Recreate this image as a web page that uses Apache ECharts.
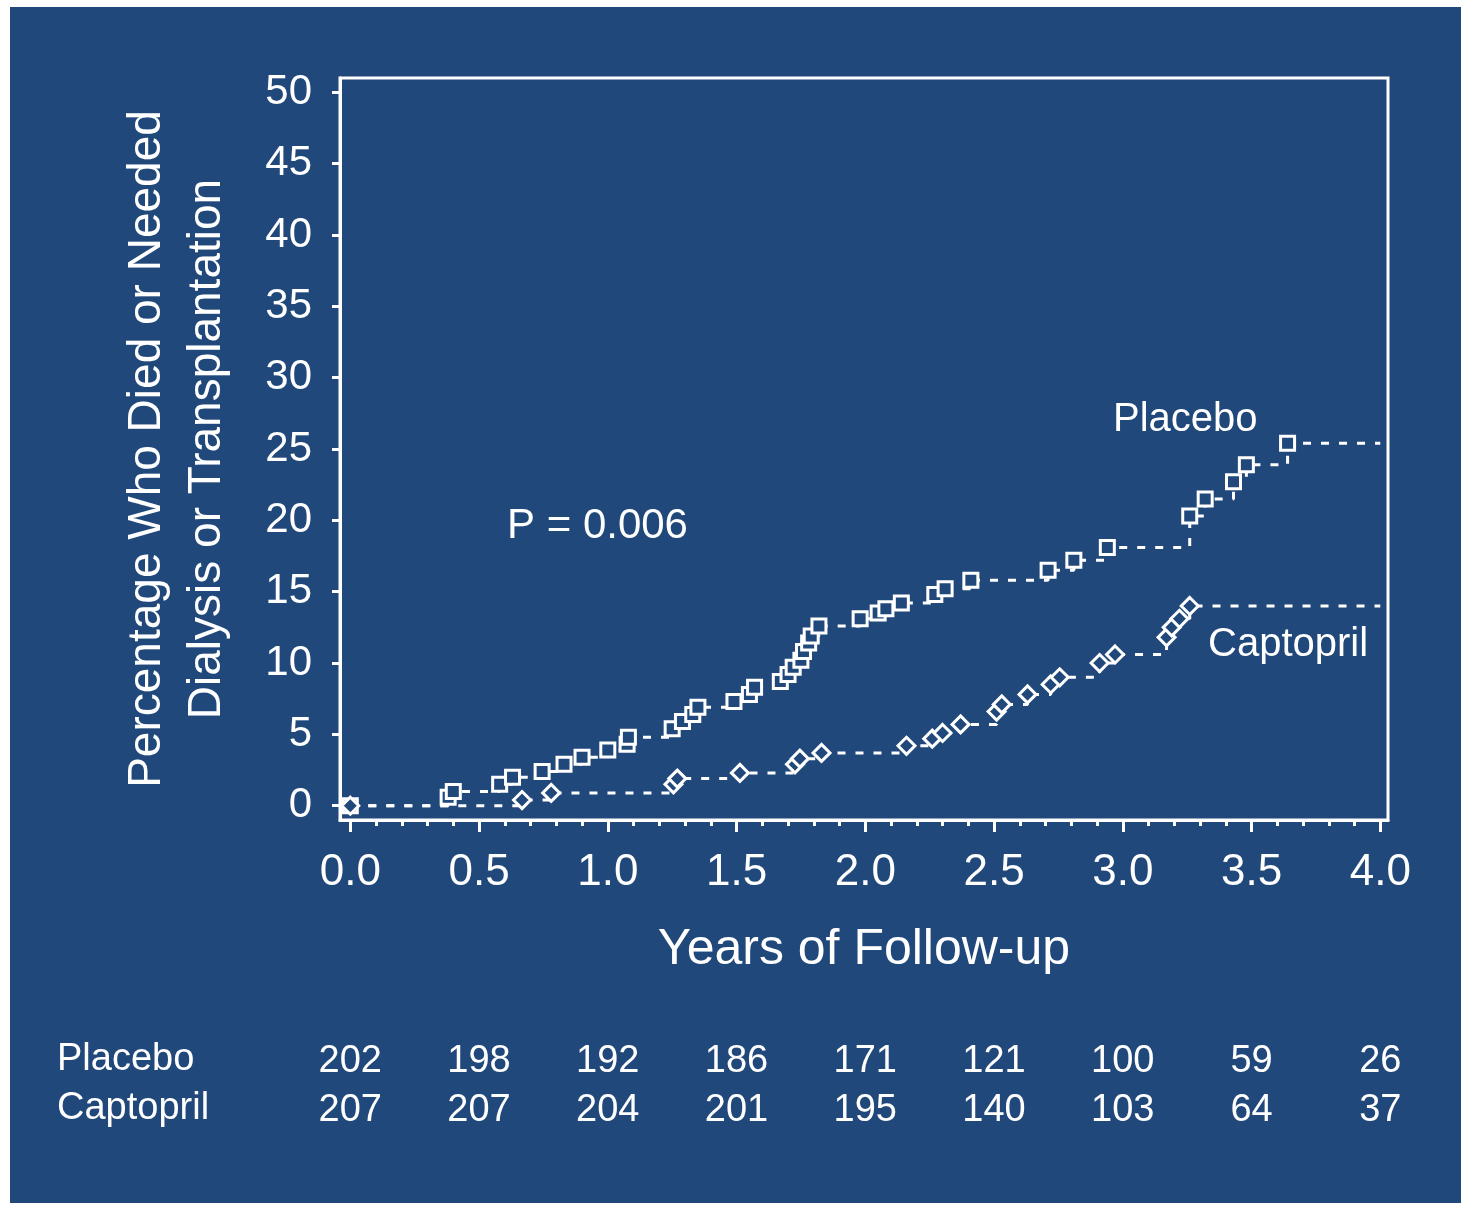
<!DOCTYPE html>
<html>
<head>
<meta charset="utf-8">
<title>Death, Dialysis or Transplantation — Captopril vs Placebo</title>
<script src="https://cdn.jsdelivr.net/npm/echarts@6/dist/echarts.min.js"></script>
<style>
  html, body { margin: 0; padding: 0; background: #ffffff; }
  #chart { width: 1461px; height: 1205px; }
</style>
</head>
<body>
<div id="chart"></div>
<script>
// Cumulative event curves (years, percent) — each entry marks an event step
const placeboYears = [0, 0.38, 0.40, 0.58, 0.63, 0.745, 0.83, 0.90, 1.00, 1.075, 1.08,
  1.25, 1.29, 1.33, 1.35, 1.49, 1.55, 1.57, 1.67, 1.70, 1.72, 1.75, 1.76, 1.78, 1.79, 1.82,
  1.98, 2.05, 2.08, 2.14, 2.27, 2.31, 2.41, 2.71, 2.81, 2.94, 3.26, 3.32, 3.43, 3.48, 3.64];
const placeboPct = [0, 0.6, 1.0, 1.5, 2.0, 2.4, 2.9, 3.4, 3.9, 4.3, 4.8,
  5.4, 5.9, 6.4, 6.9, 7.3, 7.8, 8.3, 8.7, 9.2, 9.7, 10.2, 10.8, 11.4, 11.9, 12.6,
  13.1, 13.5, 13.8, 14.2, 14.8, 15.2, 15.8, 16.5, 17.2, 18.1, 20.3, 21.5, 22.7, 23.9, 25.4];

const captoprilYears = [0, 0.667, 0.78, 1.255, 1.27, 1.513, 1.727, 1.746, 1.83,
  2.16, 2.26, 2.30, 2.37, 2.51, 2.53, 2.63, 2.72, 2.755, 2.91, 2.97, 3.17, 3.19, 3.22, 3.26];
const captoprilPct = [0, 0.4, 0.9, 1.5, 1.9, 2.3, 2.9, 3.3, 3.7,
  4.2, 4.7, 5.1, 5.7, 6.6, 7.1, 7.8, 8.5, 9.0, 10.0, 10.6, 11.8, 12.5, 13.1, 14.0];

const followUpEnd = 4.0;

// Numbers at risk
const riskYears = [0, 0.5, 1.0, 1.5, 2.0, 2.5, 3.0, 3.5, 4.0];
const placeboRisk = [202, 198, 192, 186, 171, 121, 100, 59, 26];
const captoprilRisk = [207, 207, 204, 201, 195, 140, 103, 64, 37];

// Axis ticks
const xMajorTicks = [0, 0.5, 1.0, 1.5, 2.0, 2.5, 3.0, 3.5, 4.0];
const xMinorTicks = [0.1, 0.2, 0.3, 0.4, 0.6, 0.7, 0.8, 0.9, 1.1, 1.2, 1.3, 1.4, 1.6, 1.7, 1.8, 1.9,
  2.1, 2.2, 2.3, 2.4, 2.6, 2.7, 2.8, 2.9, 3.1, 3.2, 3.3, 3.4, 3.6, 3.7, 3.8, 3.9];
const yTicks = [0, 5, 10, 15, 20, 25, 30, 35, 40, 45, 50];

const BLUE = '#21487a';
const WHITE = '#ffffff';
const FONT = '"Liberation Sans", Arial, Helvetica, sans-serif';

function curve(years, pct) {
  const pts = years.map((t, i) => [t, pct[i]]);
  pts.push({ value: [followUpEnd, pct[pct.length - 1]], symbol: 'none' });
  return pts;
}

const X_MIN = -0.04, X_MAX = 4.03;

const baseX = { type: 'value', min: X_MIN, max: X_MAX, position: 'bottom', splitLine: { show: false } };

function riskLabel(counts) {
  return v => {
    const i = riskYears.findIndex(r => Math.abs(r - v) < 1e-6);
    return i >= 0 ? String(counts[i]) : '';
  };
}

const chart = echarts.init(document.getElementById('chart'), null, { renderer: 'canvas' });

chart.setOption({
  animation: false,
  backgroundColor: WHITE,
  textStyle: { fontFamily: FONT },
  graphic: [
    { type: 'rect', z: -10, silent: true, shape: { x: 10, y: 7, width: 1451, height: 1196 }, style: { fill: BLUE } },
    { type: 'text', silent: true, style: { text: 'P = 0.006', x: 507, y: 526, font: '42px ' + FONT, fill: WHITE, align: 'left', verticalAlign: 'middle' } },
    { type: 'text', silent: true, style: { text: 'Placebo', x: 1113, y: 420, font: '40px ' + FONT, fill: WHITE, align: 'left', verticalAlign: 'middle' } },
    { type: 'text', silent: true, style: { text: 'Captopril', x: 1208, y: 645, font: '40px ' + FONT, fill: WHITE, align: 'left', verticalAlign: 'middle' } },
    { type: 'text', silent: true, style: { text: 'Placebo', x: 57, y: 1060, font: '38px ' + FONT, fill: WHITE, align: 'left', verticalAlign: 'middle' } },
    { type: 'text', silent: true, style: { text: 'Captopril', x: 57, y: 1109, font: '38px ' + FONT, fill: WHITE, align: 'left', verticalAlign: 'middle' } }
  ],
  grid: {
    left: 340, top: 78, width: 1048, height: 742,
    show: true, borderColor: WHITE, borderWidth: 3, backgroundColor: 'transparent'
  },
  xAxis: [
    Object.assign({}, baseX, {
      name: 'Years of Follow-up', nameLocation: 'middle', nameGap: 105,
      nameTextStyle: { color: WHITE, fontSize: 50, fontFamily: FONT },
      axisLine: { show: true, onZero: false, lineStyle: { color: WHITE, width: 3 } },
      axisTick: { show: true, customValues: xMajorTicks, length: 12, lineStyle: { color: WHITE, width: 3 } },
      axisLabel: { show: true, customValues: xMajorTicks, margin: 31, color: WHITE, fontSize: 44, fontFamily: FONT,
        formatter: v => Number(v).toFixed(1) }
    }),
    Object.assign({}, baseX, {
      axisLine: { show: false, onZero: false },
      axisTick: { show: true, customValues: xMinorTicks, length: 6, lineStyle: { color: WHITE, width: 3 } },
      axisLabel: { show: false }
    }),
    Object.assign({}, baseX, {
      offset: 203,
      axisLine: { show: false, onZero: false }, axisTick: { show: false },
      axisLabel: { show: true, customValues: riskYears, margin: 20, color: WHITE, fontSize: 38, fontFamily: FONT,
        formatter: riskLabel(placeboRisk) }
    }),
    Object.assign({}, baseX, {
      offset: 252,
      axisLine: { show: false, onZero: false }, axisTick: { show: false },
      axisLabel: { show: true, customValues: riskYears, margin: 20, color: WHITE, fontSize: 38, fontFamily: FONT,
        formatter: riskLabel(captoprilRisk) }
    })
  ],
  yAxis: {
    type: 'value', min: -1, max: 51,
    name: 'Percentage Who Died or Needed\nDialysis or Transplantation',
    nameLocation: 'middle', nameRotate: 90, nameGap: 103,
    nameTextStyle: { color: WHITE, fontSize: 46, fontFamily: FONT, lineHeight: 60, align: 'center' },
    splitLine: { show: false },
    axisLine: { show: true, onZero: false, lineStyle: { color: WHITE, width: 3 } },
    axisTick: { show: true, customValues: yTicks, length: 8, lineStyle: { color: WHITE, width: 3 } },
    axisLabel: { show: true, customValues: yTicks, margin: 28, color: WHITE, fontSize: 42, fontFamily: FONT }
  },
  series: [
    {
      name: 'Placebo', type: 'line', xAxisIndex: 0, step: 'end',
      data: curve(placeboYears, placeboPct),
      symbol: 'rect', symbolSize: 14,
      itemStyle: { color: BLUE, borderColor: WHITE, borderWidth: 3 },
      lineStyle: { color: WHITE, width: 3, type: [8, 10] },
      emphasis: { disabled: true }, z: 3
    },
    {
      name: 'Captopril', type: 'line', xAxisIndex: 0, step: 'end',
      data: curve(captoprilYears, captoprilPct),
      symbol: 'diamond', symbolSize: 17,
      itemStyle: { color: BLUE, borderColor: WHITE, borderWidth: 3 },
      lineStyle: { color: WHITE, width: 3, type: [8, 10] },
      emphasis: { disabled: true }, z: 3
    }
  ]
});
</script>
</body>
</html>
